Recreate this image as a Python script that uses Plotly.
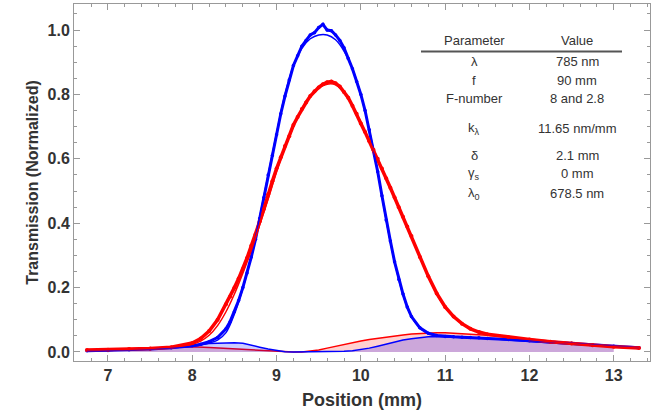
import plotly.graph_objects as go

# ---------------- data ----------------
x_meas = [6.75, 7.0, 7.25, 7.5, 7.75, 8.0, 8.1, 8.2, 8.3, 8.4, 8.45, 8.5, 8.55, 8.6, 8.65,
          8.7, 8.75, 8.8, 8.85, 8.9, 8.95, 9.0, 9.05, 9.1, 9.15, 9.2, 9.25, 9.3, 9.35, 9.4,
          9.45, 9.5, 9.55, 9.6, 9.65, 9.7, 9.75, 9.8, 9.85, 9.9, 9.95, 10.0, 10.05, 10.1,
          10.15, 10.2, 10.25, 10.3, 10.35, 10.4, 10.45, 10.5, 10.55, 10.6, 10.7, 10.8, 10.9,
          11.0, 11.1, 11.2, 11.3, 11.4, 11.5, 11.75, 12.0, 12.25, 12.5, 12.75, 13.0, 13.3]

blue_meas = [0.004, 0.005, 0.007, 0.009, 0.013, 0.019, 0.024, 0.032, 0.045, 0.072, 0.095, 0.125,
             0.16, 0.2, 0.245, 0.295, 0.35, 0.415, 0.48, 0.55, 0.61, 0.675, 0.74, 0.795, 0.845,
             0.89, 0.92, 0.95, 0.968, 0.985, 0.992, 1.008, 1.018, 1.0, 0.998, 0.985, 0.968,
             0.945, 0.912, 0.88, 0.84, 0.8, 0.75, 0.69, 0.625, 0.56, 0.485, 0.41, 0.345, 0.28,
             0.225, 0.18, 0.14, 0.11, 0.075, 0.058, 0.051, 0.048, 0.047, 0.046, 0.045, 0.044,
             0.042, 0.039, 0.035, 0.031, 0.027, 0.022, 0.018, 0.013]

red_meas = [0.006, 0.007, 0.009, 0.011, 0.015, 0.028, 0.042, 0.065, 0.1, 0.148, 0.172, 0.2,
            0.228, 0.258, 0.292, 0.33, 0.365, 0.405, 0.445, 0.49, 0.53, 0.57, 0.605, 0.64,
            0.67, 0.705, 0.73, 0.755, 0.775, 0.795, 0.81, 0.822, 0.832, 0.838, 0.84, 0.835,
            0.825, 0.808, 0.79, 0.765, 0.74, 0.71, 0.683, 0.655, 0.628, 0.6, 0.57, 0.54, 0.51,
            0.48, 0.45, 0.42, 0.39, 0.36, 0.295, 0.235, 0.182, 0.14, 0.11, 0.088, 0.072,
            0.062, 0.055, 0.046, 0.039, 0.032, 0.026, 0.021, 0.016, 0.012]

x_model = [6.75, 7.0, 7.5, 7.8, 8.0, 8.1, 8.2, 8.3, 8.4, 8.5, 8.6, 8.7, 8.8, 8.9, 9.0, 9.1,
           9.2, 9.3, 9.4, 9.5, 9.6, 9.7, 9.8, 9.9, 10.0, 10.1, 10.2, 10.3, 10.4, 10.5, 10.6,
           10.7, 10.8, 10.9, 11.0, 11.1, 11.2, 11.3, 11.4, 11.5, 12.0, 12.5, 13.0, 13.3]

blue_model = [0.004, 0.005, 0.009, 0.014, 0.018, 0.022, 0.028, 0.037, 0.06, 0.118, 0.198,
              0.298, 0.42, 0.55, 0.68, 0.8, 0.888, 0.943, 0.973, 0.985, 0.985, 0.97, 0.935,
              0.88, 0.8, 0.69, 0.56, 0.41, 0.28, 0.178, 0.11, 0.075, 0.058, 0.05, 0.047,
              0.046, 0.045, 0.044, 0.043, 0.042, 0.035, 0.027, 0.018, 0.013]

red_model = [0.006, 0.007, 0.011, 0.016, 0.024, 0.034, 0.052, 0.082, 0.125, 0.18, 0.245,
             0.315, 0.395, 0.475, 0.56, 0.635, 0.7, 0.755, 0.795, 0.82, 0.832, 0.83, 0.805,
             0.765, 0.713, 0.657, 0.6, 0.54, 0.48, 0.42, 0.36, 0.295, 0.235, 0.18, 0.138,
             0.108, 0.087, 0.072, 0.062, 0.055, 0.039, 0.026, 0.016, 0.012]

x_resid = [6.75, 7.0, 7.5, 7.8, 8.0, 8.2, 8.4, 8.5, 8.6, 8.7, 8.8, 8.9, 9.0, 9.1, 9.2, 9.3,
           9.4, 9.5, 9.6, 9.7, 9.8, 9.9, 10.0, 10.1, 10.2, 10.3, 10.4, 10.5, 10.6, 10.7, 10.8,
           10.9, 11.0, 11.25, 11.5, 11.75, 12.0, 12.25, 12.5, 12.75, 13.0]

blue_resid = [0.004, 0.005, 0.01, 0.015, 0.02, 0.026, 0.029, 0.029, 0.027, 0.022, 0.015,
              0.009, 0.004, 0.001, 0.0, 0.0, 0.0, 0.0, 0.001, 0.001, 0.002, 0.004, 0.007,
              0.012, 0.018, 0.025, 0.031, 0.037, 0.041, 0.045, 0.047, 0.048, 0.048, 0.046,
              0.042, 0.037, 0.033, 0.028, 0.024, 0.02, 0.016]

red_resid = [0.005, 0.007, 0.012, 0.015, 0.016, 0.014, 0.011, 0.009, 0.008, 0.006, 0.005,
             0.003, 0.002, 0.001, 0.0, 0.0, 0.002, 0.006, 0.012, 0.018, 0.024, 0.029, 0.034,
             0.039, 0.043, 0.047, 0.05, 0.053, 0.056, 0.058, 0.06, 0.06, 0.06, 0.057, 0.052,
             0.046, 0.04, 0.034, 0.028, 0.022, 0.016]

param_names = ["λ", "f", "F-number", "k<sub>λ</sub>", "δ", "γ<sub>s</sub>", "λ<sub>0</sub>"]
param_values = ["785 nm", "90 mm", "8 and 2.8", "11.65 nm/mm", "2.1 mm", "0 mm", "678.5 nm"]
x_ticks = [7, 8, 9, 10, 11, 12, 13]
y_ticks = [0.0, 0.2, 0.4, 0.6, 0.8, 1.0]

BLUE = "rgb(0,0,255)"
RED = "rgb(255,0,0)"

fig = go.Figure()

# residual fills
fig.add_trace(go.Scatter(x=x_resid, y=red_resid, mode="lines", fill="tozeroy",
                         fillcolor="rgba(255,0,0,0.18)", line=dict(color=RED, width=1.5),
                         showlegend=False))
fig.add_trace(go.Scatter(x=x_resid, y=blue_resid, mode="lines", fill="tozeroy",
                         fillcolor="rgba(0,0,255,0.2)", line=dict(color=BLUE, width=1.5),
                         showlegend=False))

# measured (thick dotted)
fig.add_trace(go.Scatter(x=x_meas, y=blue_meas, mode="lines+markers",
                         line=dict(color=BLUE, width=3), marker=dict(color=BLUE, size=3.5),
                         showlegend=False))
fig.add_trace(go.Scatter(x=x_meas, y=red_meas, mode="lines+markers",
                         line=dict(color=RED, width=3.5), marker=dict(color=RED, size=4),
                         showlegend=False))

# model (thin)
fig.add_trace(go.Scatter(x=x_model, y=blue_model, mode="lines", line=dict(color=BLUE, width=1.5),
                         line_shape="spline", showlegend=False))
fig.add_trace(go.Scatter(x=x_model, y=red_model, mode="lines", line=dict(color=RED, width=1.5),
                         line_shape="spline", showlegend=False))

# parameter table
L, R, T, B = 74, 650, 4, 361
def px(xp):
    return (xp - L) / (R - L)
def py(yp):
    return (B - yp) / (B - T)

tfont = dict(family="Liberation Sans, Arial, sans-serif", size=13, color="#333")
for txt, xx in (("Parameter", 474), ("Value", 577)):
    fig.add_annotation(x=px(xx), y=py(41), xref="paper", yref="paper", text=txt,
                       showarrow=False, font=tfont, xanchor="center", yanchor="middle")
fig.add_shape(type="line", xref="paper", yref="paper", x0=px(421), x1=px(622),
              y0=py(51.5), y1=py(51.5), line=dict(color="#555", width=2))
row_y = [62, 80, 98.5, 128.5, 155, 173.5, 193]
for name, val, yy in zip(param_names, param_values, row_y):
    fig.add_annotation(x=px(474), y=py(yy), xref="paper", yref="paper", text=name,
                       showarrow=False, font=tfont, xanchor="center", yanchor="middle")
    fig.add_annotation(x=px(577), y=py(yy), xref="paper", yref="paper", text=val,
                       showarrow=False, font=tfont, xanchor="center", yanchor="middle")

GREY = "#999"
tickfont = dict(family="Liberation Sans, Arial, sans-serif", size=16, color="#333", weight="bold")
fig.update_xaxes(range=[6.597, 13.43], tickvals=x_ticks, ticktext=[str(t) for t in x_ticks],
                 ticks="inside", ticklen=6, tickcolor=GREY, showline=True, linecolor=GREY,
                 linewidth=1, mirror="ticks", showgrid=False, zeroline=False,
                 minor=dict(dtick=0.2, ticks="inside", ticklen=3, tickcolor=GREY),
                 tickfont=tickfont,
                 title=dict(text="<b>Position (mm)</b>", standoff=10,
                            font=dict(family="Liberation Sans, Arial, sans-serif", size=18,
                                      color="#333")))
fig.update_yaxes(range=[-0.028, 1.081], tickvals=y_ticks,
                 ticktext=[f"{t:.1f}" for t in y_ticks],
                 ticks="inside", ticklen=6, tickcolor=GREY, showline=True, linecolor=GREY,
                 linewidth=1, mirror="ticks", showgrid=False, zeroline=False,
                 minor=dict(dtick=0.05, ticks="inside", ticklen=3, tickcolor=GREY),
                 tickfont=tickfont,
                 title=dict(text="<b>Transmission (Normalized)</b>", standoff=4,
                            font=dict(family="Liberation Sans, Arial, sans-serif", size=16,
                                      color="#333")))

fig.update_layout(width=653, height=420, margin=dict(l=L, r=653 - R, t=T, b=420 - B),
                  plot_bgcolor="white", paper_bgcolor="white")

fig.write_html("out.html")
